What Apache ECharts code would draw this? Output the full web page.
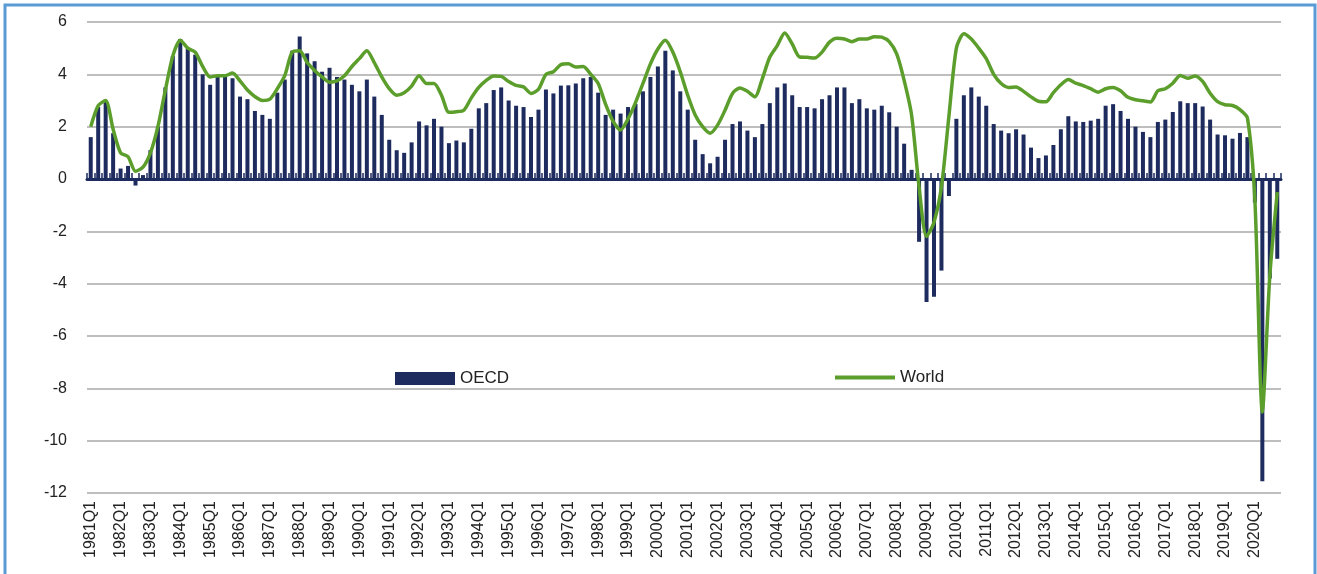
<!DOCTYPE html>
<html>
<head>
<meta charset="utf-8">
<title>OECD vs World</title>
<script src="https://cdn.jsdelivr.net/npm/echarts@6/dist/echarts.min.js"></script>
<style>
  html, body { margin: 0; padding: 0; background: #fff; }
  #chart { width: 1317px; height: 574px; }
</style>
</head>
<body>
<div id="chart"></div>
<script>
// quarters 1981Q1 .. 2020Q4
const years = [];
for (let y = 1981; y <= 2020; y++) years.push(y);
const quarters = [];
years.forEach(y => { for (let q = 1; q <= 4; q++) quarters.push(y + 'Q' + q); });

// OECD, y/y %, bars
const oecd = [
  1.6, 2.75, 2.95, 1.75,   0.4, 0.5, -0.25, 0.15,   1.1, 2.0, 3.5, 4.7,
  5.35, 5.0, 4.75, 4.0,    3.6, 3.9, 3.9, 3.85,     3.15, 3.05, 2.6, 2.45,
  2.3, 3.3, 3.8, 4.9,      5.45, 4.8, 4.5, 4.1,     4.25, 3.9, 3.8, 3.6,
  3.35, 3.8, 3.15, 2.45,   1.5, 1.1, 1.0, 1.4,      2.2, 2.05, 2.3, 2.0,
  1.37, 1.47, 1.4, 1.92,   2.7, 2.9, 3.4, 3.5,      3.0, 2.8, 2.75, 2.37,
  2.65, 3.42, 3.27, 3.57,  3.58, 3.65, 3.85, 3.9,   3.3, 2.45, 2.65, 2.5,
  2.75, 2.87, 3.35, 3.9,   4.3, 4.9, 4.15, 3.35,    2.65, 1.5, 0.95, 0.6,
  0.85, 1.5, 2.1, 2.2,     1.85, 1.6, 2.1, 2.9,     3.5, 3.65, 3.2, 2.75,
  2.75, 2.7, 3.05, 3.2,    3.5, 3.5, 2.9, 3.05,     2.7, 2.65, 2.8, 2.55,
  2.0, 1.35, 0.35, -2.4,   -4.7, -4.5, -3.5, -0.65, 2.3, 3.2, 3.5, 3.15,
  2.8, 2.1, 1.85, 1.75,    1.9, 1.7, 1.2, 0.8,      0.9, 1.3, 1.9, 2.4,
  2.2, 2.18, 2.23, 2.3,    2.8, 2.86, 2.6, 2.3,     2.0, 1.8, 1.6, 2.18,
  2.27, 2.56, 2.97, 2.9,   2.9, 2.77, 2.27, 1.7,    1.67, 1.54, 1.76, 1.6,
  -0.9, -11.55, -3.8, -3.05
];

// World, y/y %, line
const world = [
  2.0, 2.8, 3.0, 1.9,      1.0, 0.85, 0.3, 0.45,    1.0, 2.0, 3.4, 4.7,
  5.3, 5.0, 4.85, 4.3,     3.9, 3.95, 3.95, 4.05,   3.75, 3.4, 3.15, 3.0,
  3.05, 3.45, 3.95, 4.85,  4.9, 4.45, 4.15, 3.9,    3.7, 3.75, 3.95, 4.3,
  4.6, 4.9, 4.45, 3.9,     3.45, 3.2, 3.3, 3.55,    3.95, 3.65, 3.65, 3.2,
  2.55, 2.57, 2.63, 3.1,   3.5, 3.77, 3.94, 3.92,   3.73, 3.58, 3.52, 3.27,
  3.43, 4.0, 4.1, 4.37,    4.4, 4.28, 4.3, 4.0,     3.65, 2.85, 2.2, 1.87,
  2.3, 2.92, 3.65, 4.4,    4.97, 5.3, 4.85, 4.1,    3.2, 2.45, 2.0, 1.75,
  2.06, 2.63, 3.27, 3.48,  3.35, 3.14, 3.84, 4.66,  5.1, 5.58, 5.16, 4.66,
  4.65, 4.62, 4.85, 5.23,  5.38, 5.35, 5.25, 5.35,  5.35, 5.44, 5.42, 5.25,
  4.78, 3.77, 2.44, -0.3,  -2.2, -1.65, -0.3, 2.4,  5.0, 5.55, 5.35, 5.0,
  4.6, 4.0, 3.65, 3.5,     3.52, 3.35, 3.14, 2.97,  2.95, 3.3, 3.6, 3.8,
  3.66, 3.57, 3.45, 3.32,  3.45, 3.5, 3.37, 3.12,   3.03, 2.99, 2.94, 3.37,
  3.45, 3.66, 3.96, 3.85,  3.94, 3.73, 3.28, 2.96,  2.84, 2.81, 2.65, 2.33,
  -0.8, -8.9, -3.7, -0.5
];

const yTicks = { min: -12, max: 6, step: 2 };

const navy = '#1d2b5e';
const green = '#5c9e2c';
const font = 'Liberation Sans, Arial, sans-serif';

const chart = echarts.init(document.getElementById('chart'));
chart.setOption({
  animation: false,
  backgroundColor: '#fff',
  grid: { left: 87, right: 36, top: 22, bottom: 81 },
  legend: [
    {
      data: ['OECD'], left: 390, top: 365,
      itemWidth: 60, itemHeight: 13, icon: 'rect',
      textStyle: { fontFamily: font, fontSize: 17, color: '#222' }
    },
    {
      // plain line swatch, no marker
      data: ['World'], left: 830, top: 364,
      itemWidth: 60, itemHeight: 4, icon: 'rect',
      itemStyle: { color: green },
      textStyle: { fontFamily: font, fontSize: 17, color: '#222' }
    }
  ],
  xAxis: [
    {
      type: 'category',
      data: quarters,
      axisLine: { show: false, onZero: false },
      axisTick: { show: false },
      axisLabel: {
        interval: 3, rotate: 90, margin: 8,
        fontFamily: font, fontSize: 16, color: '#222'
      },
      splitLine: { show: false }
    },
    {
      // zero line with small ticks, like the original
      type: 'category',
      data: quarters,
      position: 'bottom',
      axisLine: { show: true, onZero: true, lineStyle: { color: navy, width: 3 } },
      axisTick: { show: true, interval: 0, inside: true, length: 6, lineStyle: { color: navy, width: 1.5 } },
      axisLabel: { show: false },
      splitLine: { show: false }
    }
  ],
  yAxis: {
    type: 'value',
    min: yTicks.min, max: yTicks.max, interval: yTicks.step,
    axisLine: { show: false },
    axisTick: { show: false },
    axisLabel: { margin: 20, fontFamily: font, fontSize: 16, color: '#222' },
    splitLine: { lineStyle: { color: '#a8a8a8', width: 1.5 } }
  },
  series: [
    {
      name: 'OECD',
      type: 'bar',
      data: oecd,
      barWidth: 4,
      itemStyle: { color: navy }
    },
    {
      name: 'World',
      type: 'line',
      data: world,
      symbol: 'none',
      smooth: 0.25,
      lineStyle: { color: green, width: 3.5 },
      itemStyle: { color: green },
      z: 5
    }
  ],
  graphic: [
    {
      type: 'rect',
      shape: { x: 5, y: 5, width: 1310, height: 600 },
      style: { fill: null, stroke: '#5b9bd5', lineWidth: 3 },
      silent: true
    }
  ]
});
</script>
</body>
</html>
